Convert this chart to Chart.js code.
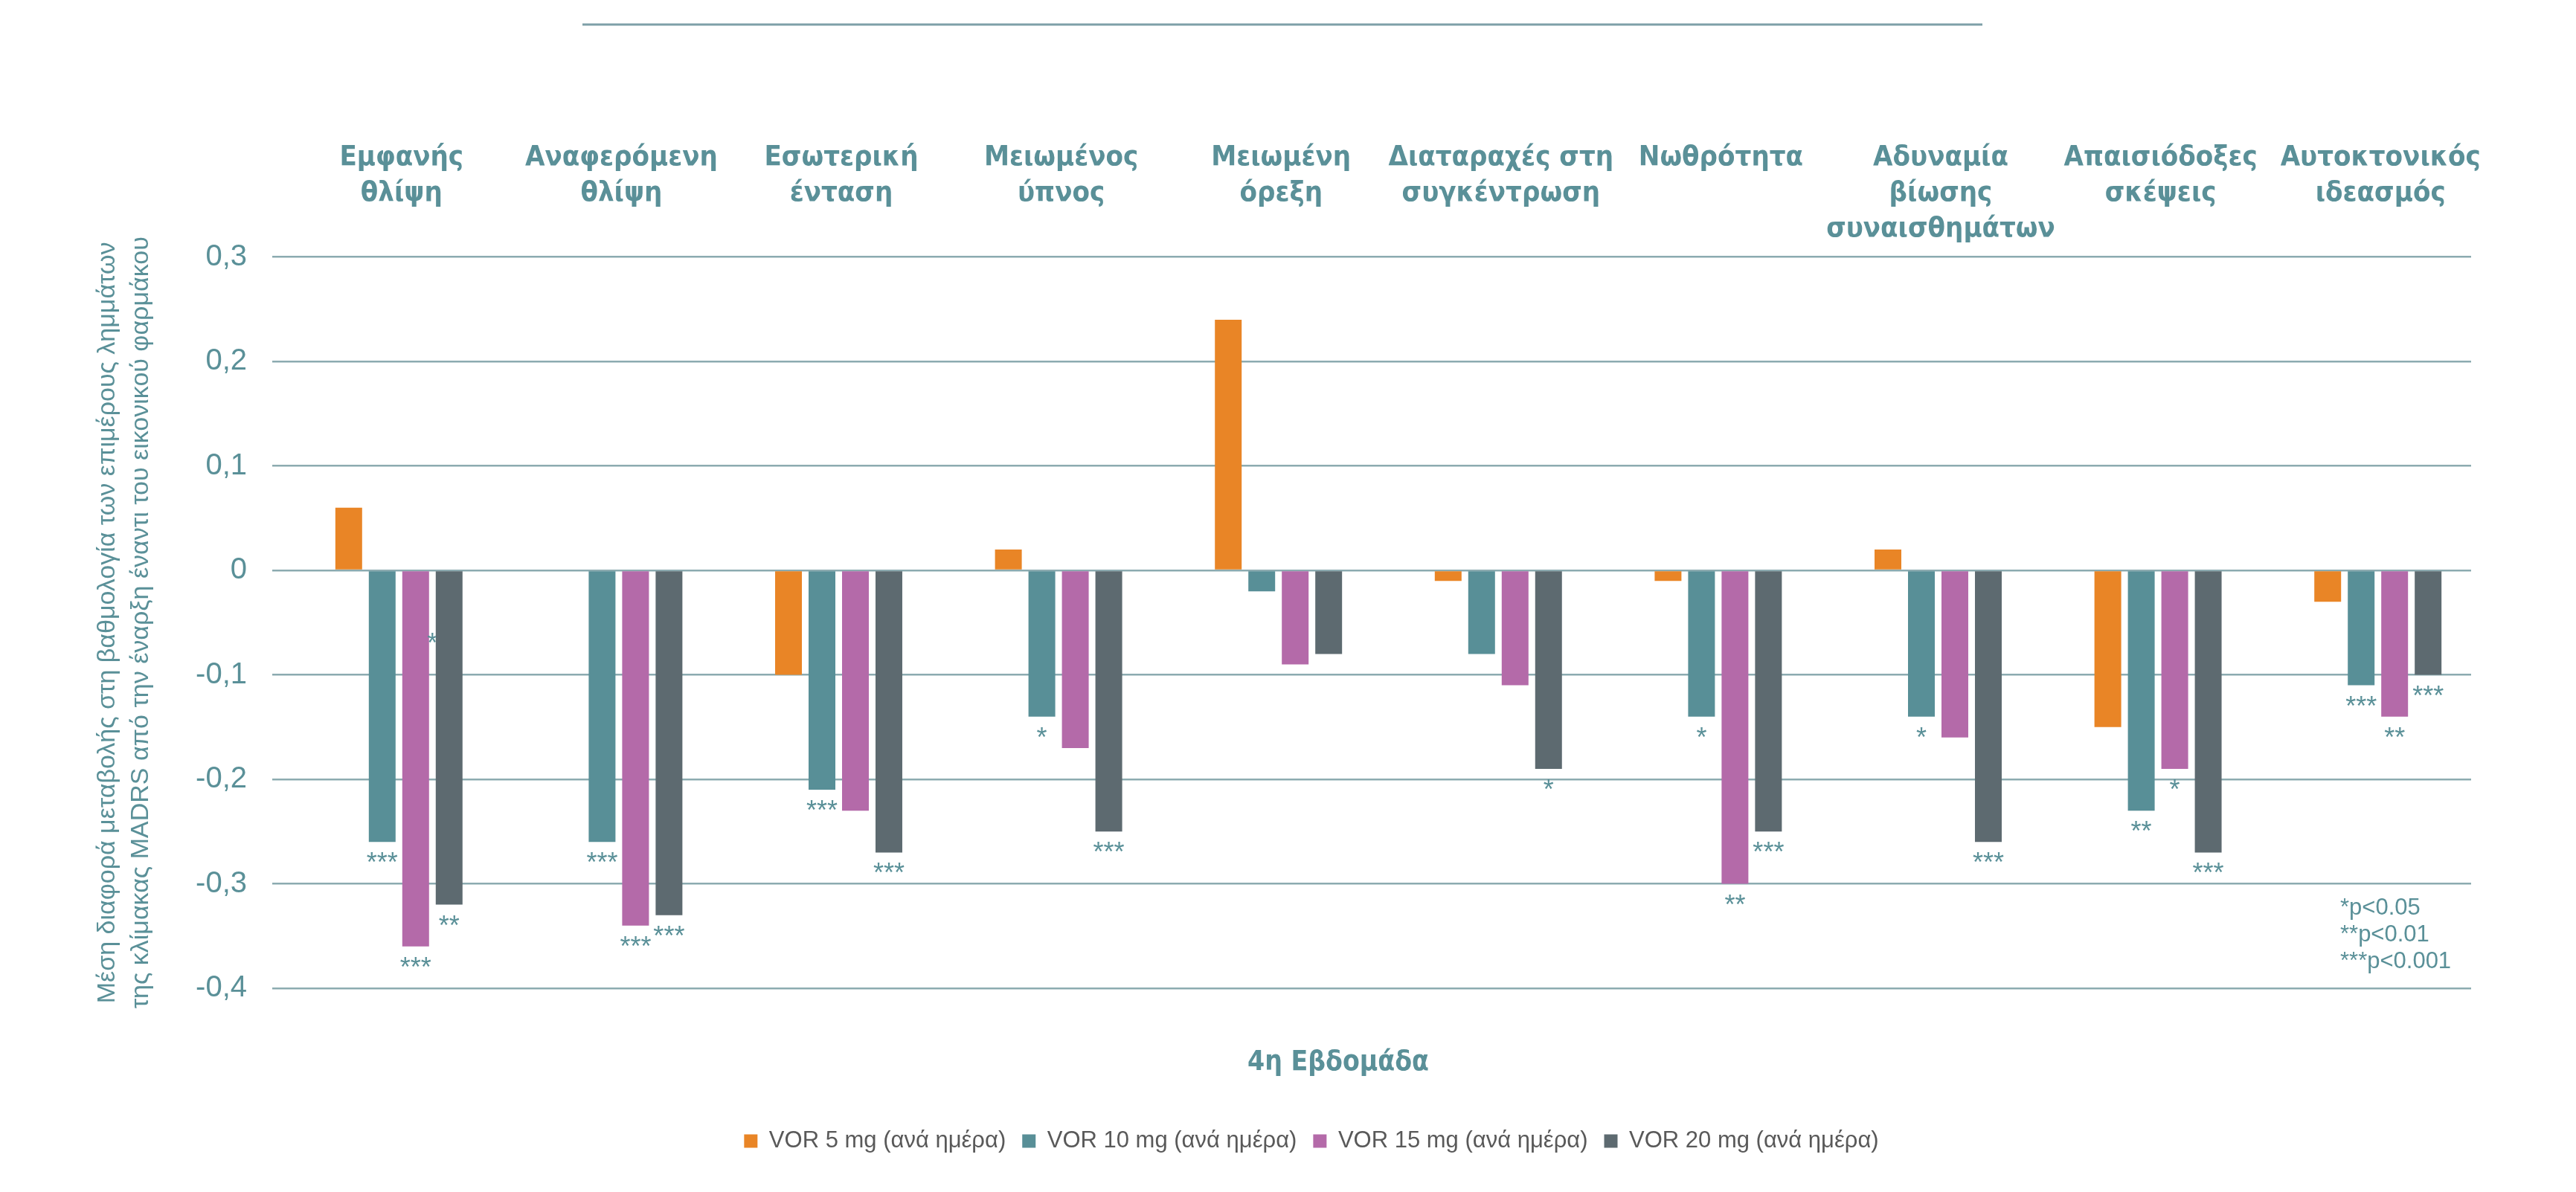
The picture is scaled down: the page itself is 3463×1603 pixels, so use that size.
<!DOCTYPE html>
<html>
<head>
<meta charset="utf-8">
<script src="https://cdn.jsdelivr.net/npm/chart.js@4.4.0/dist/chart.umd.min.js"></script>
<style>
  html, body { margin: 0; padding: 0; background: #ffffff; }
  canvas { display: block; }
</style>
</head>
<body>
<canvas id="myChart" width="3463" height="1603"></canvas>
<script>
const categories = [
    ['Εμφανής', 'θλίψη'],
    ['Αναφερόμενη', 'θλίψη'],
    ['Εσωτερική', 'ένταση'],
    ['Μειωμένος', 'ύπνος'],
    ['Μειωμένη', 'όρεξη'],
    ['Διαταραχές στη', 'συγκέντρωση'],
    ['Νωθρότητα'],
    ['Αδυναμία', 'βίωσης', 'συναισθημάτων'],
    ['Απαισιόδοξες', 'σκέψεις'],
    ['Αυτοκτονικός', 'ιδεασμός'],
];

const seriesNames = [
    'VOR 5 mg (ανά ημέρα)',
    'VOR 10 mg (ανά ημέρα)',
    'VOR 15 mg (ανά ημέρα)',
    'VOR 20 mg (ανά ημέρα)',
];

const vor5 = [0.06, 0, -0.10, 0.02, 0.24, -0.01, -0.01, 0.02, -0.15, -0.03];
const vor10 = [-0.26, -0.26, -0.21, -0.14, -0.02, -0.08, -0.14, -0.14, -0.23, -0.11];
const vor15 = [-0.36, -0.34, -0.23, -0.17, -0.09, -0.11, -0.30, -0.16, -0.19, -0.14];
const vor20 = [-0.32, -0.33, -0.27, -0.25, -0.08, -0.19, -0.25, -0.26, -0.27, -0.10];

// significance marks under each bar
const sig5 = ['', '', '', '', '', '', '', '', '', ''];
const sig10 = ['***', '***', '***', '*', '', '', '*', '*', '**', '***'];
const sig15 = ['***', '***', '', '', '', '', '**', '', '*', '**'];
const sig20 = ['**', '***', '***', '***', '', '*', '***', '***', '***', '***'];

const yTicks = [0.3, 0.2, 0.1, 0, -0.1, -0.2, -0.3, -0.4];
const footnote = ['*p<0.05', '**p<0.01', '***p<0.001'];
const xTitle = '4η Εβδομάδα';

const colors = ['#E98526', '#588F97', '#B46AA9', '#5D6A70'];
const TEAL = '#5A9098';
const GRID = '#8CABB0';
const NARROW = '"Liberation Sans Narrow", "DejaVu Sans Condensed", "Liberation Sans", sans-serif';
const SANS = '"Liberation Sans", Arial, sans-serif';

Chart.defaults.font.family = SANS;

const series = [vor5, vor10, vor15, vor20];
const marks = [sig5, sig10, sig15, sig20];

// empty first slot: the source chart leaves a gap before the first bar of each group
const datasets = [{
    label: '',
    data: categories.map(() => null),
    backgroundColor: 'rgba(0,0,0,0)',
}].concat(series.map((d, i) => ({
    label: seriesNames[i],
    data: d,
    backgroundColor: colors[i],
    borderWidth: 0,
})));

const extras = {
    id: 'extras',
    afterDatasetsDraw(chart) {
        const ctx = chart.ctx;
        const area = chart.chartArea;
        ctx.save();
        ctx.fillStyle = TEAL;
        ctx.font = '36px ' + SANS;
        ctx.textAlign = 'center';
        ctx.textBaseline = 'alphabetic';
        marks.forEach((m, s) => {
            const meta = chart.getDatasetMeta(s + 1);
            m.forEach((txt, i) => {
                if (!txt) return;
                const bar = meta.data[i];
                ctx.fillText(txt, bar.x, bar.y + 40);
            });
        });

        // stray star half hidden behind the first VOR 20 bar
        const p = chart.getDatasetMeta(3).data[0];
        const g = chart.getDatasetMeta(4).data[0];
        ctx.save();
        ctx.beginPath();
        ctx.rect(0, 0, g.x - g.width / 2, chart.height);
        ctx.clip();
        ctx.fillText('*', (p.x + g.x) / 2, chart.scales.y.getPixelForValue(-0.05) + 40);
        ctx.restore();

        ctx.font = '31px ' + SANS;
        ctx.textAlign = 'left';
        ctx.textBaseline = 'middle';
        footnote.forEach((t, i) => {
            ctx.fillText(t, area.right - 176, area.bottom - 108 + i * 36);
        });

        // week title under the plot
        ctx.font = 'bold 37px ' + NARROW;
        ctx.textAlign = 'center';
        ctx.fillText(xTitle, (area.left + area.right) / 2 - 45, area.bottom + 100);

        // line across the top of the picture
        ctx.strokeStyle = '#7E9FA8';
        ctx.lineWidth = 3;
        ctx.beginPath();
        ctx.moveTo(783, 33);
        ctx.lineTo(2665, 33);
        ctx.stroke();
        ctx.restore();
    }
};

const config = {
    type: 'bar',
    data: {
        labels: categories,
        datasets: datasets,
    },
    options: {
        responsive: false,
        devicePixelRatio: 1,
        animation: false,
        barPercentage: 0.8,
        categoryPercentage: 0.761,
        layout: {
            padding: { top: 182, left: 100, right: 37, bottom: 43 }
        },
        scales: {
            x: {
                position: 'top',
                grid: { display: false },
                border: { display: false },
                ticks: {
                    color: TEAL,
                    font: { family: NARROW, size: 38, weight: 'bold', lineHeight: 1.26 },
                    padding: 6,
                    crossAlign: 'far',
                    labelOffset: 26,
                    maxRotation: 0,
                    minRotation: 0,
                    autoSkip: false,
                }
            },
            // spacer under the plot for the week title
            x2: {
                position: 'bottom',
                grid: { display: false },
                border: { display: false },
                ticks: { display: false },
                afterFit: (scale) => { scale.height = 168; },
            },
            y: {
                min: -0.4,
                max: 0.3,
                afterBuildTicks: (scale) => {
                    scale.ticks = yTicks.map(v => ({ value: v }));
                },
                afterFit: (scale) => { scale.width = 266; },
                grid: { color: GRID, lineWidth: 2.5, drawTicks: false },
                border: { display: false },
                ticks: {
                    color: TEAL,
                    padding: 34,
                    font: { size: 40 },
                    callback: (v) => String(Math.round(v * 10) / 10).replace('.', ','),
                },
                title: {
                    display: true,
                    text: [
                        'Μέση διαφορά μεταβολής στη βαθμολογία των επιμέρους λημμάτων',
                        'της κλίμακας MADRS από την έναρξη έναντι του εικονικού φαρμάκου'
                    ],
                    color: TEAL,
                    font: { size: 34, lineHeight: 1.3 },
                    padding: { top: 23, bottom: 0 },
                }
            },
            y2: {
                position: 'right',
                grid: { display: false },
                border: { display: false },
                ticks: { display: false },
                afterFit: (scale) => { scale.width = 104; },
            }
        },
        plugins: {
            tooltip: { enabled: false },
            legend: {
                position: 'bottom',
                labels: {
                    color: '#595959',
                    font: { size: 31 },
                    boxWidth: 18,
                    boxHeight: 18,
                    padding: 22,
                    filter: (item) => item.datasetIndex > 0,
                }
            }
        }
    },
    plugins: [extras],
};

const myChart = new Chart(
    document.getElementById('myChart'),
    config
);
</script>
</body>
</html>
